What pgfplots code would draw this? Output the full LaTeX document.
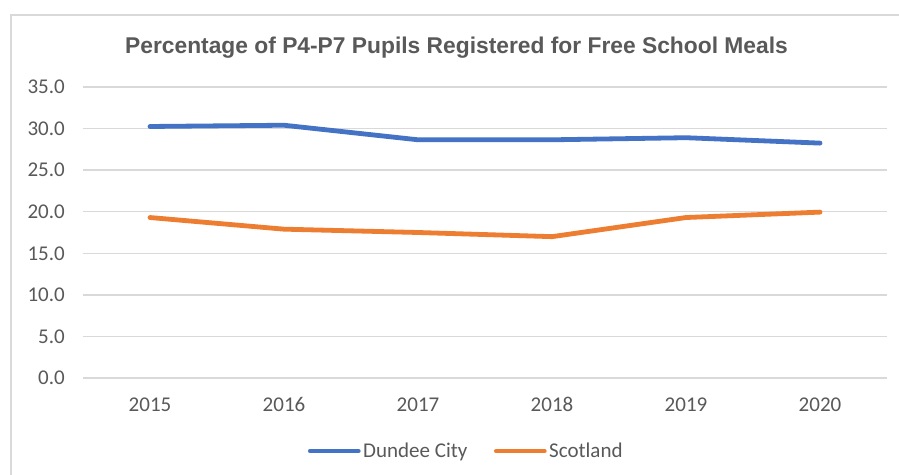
\documentclass[border=0pt]{standalone}
\usepackage{pgfplots}
\pgfplotsset{compat=1.18}
\usepackage{fontspec}
\setmainfont{Carlito}
\newfontfamily\titlefont{Liberation Sans}
\definecolor{ablue}{HTML}{4472C4}
\definecolor{aorange}{HTML}{ED7D31}
\definecolor{agrid}{HTML}{D9D9D9}
\definecolor{atext}{HTML}{595959}
\begin{document}
\begin{tikzpicture}[x=1bp,y=1bp]
\useasboundingbox (-83,-97) rectangle (816,378);
\fill[white] (-83,-97) rectangle (816,378);
\draw[agrid, line width=1.5bp] (-72,-120) -- (-72,363) -- (830,363);
\begin{axis}[
  at={(0,0)}, anchor=south west,
  scale only axis, width=804bp, height=291bp,
  xmin=-0.5, xmax=5.5, ymin=0, ymax=35,
  xtick={0,1,2,3,4,5},
  xticklabels={2015,2016,2017,2018,2019,2020},
  ytick={0,5,10,15,20,25,30,35},
  axis line style={draw=none},
  major tick length=0pt,
  ymajorgrids,
  grid style={agrid, line width=1.4bp},
  /pgf/number format/assume math mode=true,
  yticklabel={\pgfmathprintnumber[fixed,fixed zerofill,precision=1]{\tick}},
  tick label style={font=\fontsize{21bp}{24bp}\selectfont, text=atext},
  yticklabel style={anchor=east, inner sep=0pt, xshift=-18bp},
  xticklabel style={anchor=base, inner sep=0pt, yshift=-33.7bp},
  legend columns=2,
  legend style={at={(0.477,-0.251)}, anchor=center, draw=none, fill=none,
    font=\fontsize{21bp}{24bp}\selectfont, text=atext,
    inner sep=0pt,
    /tikz/every even column/.append style={column sep=24bp},
    nodes={inner xsep=2.5bp, inner ysep=0pt}},
  legend image code/.code={\draw[#1] (0bp,0bp) -- (48bp,0bp);},
  clip=false,
]
\addplot[ablue, line width=4.8bp, line cap=round, line join=round] coordinates {
 (0,30.25) (1,30.4) (2,28.65) (3,28.65) (4,28.9) (5,28.25)};
\addlegendentry{Dundee City}
\addplot[aorange, line width=4.8bp, line cap=round, line join=round] coordinates {
 (0,19.3) (1,17.9) (2,17.5) (3,17.0) (4,19.3) (5,19.95)};
\addlegendentry{Scotland}
\end{axis}
\node[anchor=base, inner sep=0pt, text=atext, font=\titlefont\bfseries\fontsize{22.8bp}{26bp}\selectfont] at (373.5,324) {Percentage of P4-P7 Pupils Registered for Free School Meals};
\end{tikzpicture}
\end{document}
